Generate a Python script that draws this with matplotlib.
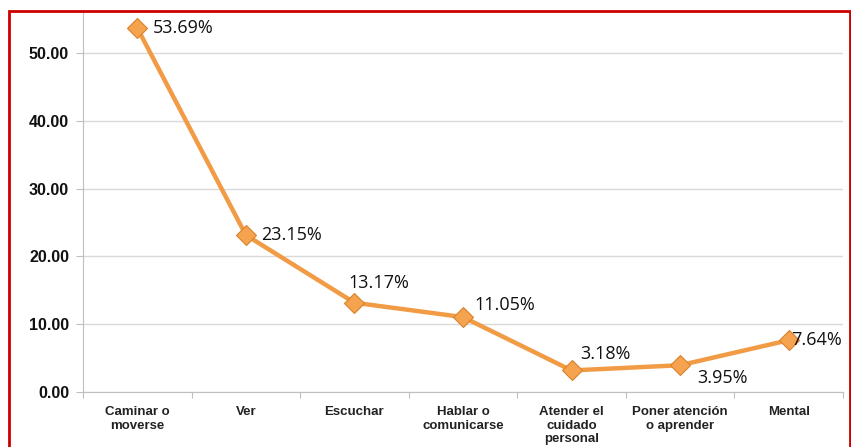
import numpy as np
import matplotlib
matplotlib.use("Agg")
import matplotlib.pyplot as plt
from matplotlib.patches import Rectangle

categories = ["Caminar o\nmoverse", "Ver", "Escuchar", "Hablar o\ncomunicarse",
              "Atender el\ncuidado\npersonal", "Poner atención\no aprender", "Mental"]
values = [53.69, 23.15, 13.17, 11.05, 3.18, 3.95, 7.64]
yticks = [0, 10, 20, 30, 40, 50]

# label offsets in points (dx, dy) and alignment, one per point
label_pos = [(11, 0, "left", "center"),
             (11, 0, "left", "center"),
             (-4, 8, "left", "bottom"),
             (8, 2, "left", "bottom"),
             (6, 5, "left", "bottom"),
             (12, -3, "left", "top"),
             (2, 0, "left", "center")]

fig = plt.figure(figsize=(8.51, 4.47), dpi=100)
ax = fig.add_axes([83 / 851, 1 - 392 / 447, 760 / 851, 381 / 447])

x = np.arange(len(values))
orange = "#F29B45"
ax.plot(x, values, color=orange, linewidth=3.2, zorder=3, solid_capstyle="round")
ax.plot(x, values, linestyle="none", marker="D", markersize=10,
        markerfacecolor="#F5A34F", markeredgecolor="#D9822B", markeredgewidth=0.8, zorder=4)

for xi, v, (dx, dy, ha, va) in zip(x, values, label_pos):
    ax.annotate(f"{v:.2f}%", (xi, v), xytext=(dx, dy), textcoords="offset points",
                ha=ha, va=va, fontsize=13, family="Open Sans", color="#111111",
                annotation_clip=False, zorder=5)

ax.set_xlim(-0.5, len(values) - 0.5)
ax.set_ylim(0, 56.2)
ax.set_yticks(yticks)
ax.set_yticklabels([f"{t:.2f}" for t in yticks], fontsize=11.5, fontweight="bold",
                   family="Liberation Sans", color="#111111")
ax.yaxis.grid(True, color="#D9D9D9", linewidth=1)
ax.set_axisbelow(True)

# category labels centred between boundary ticks
ax.set_xticks(np.arange(-0.5, len(values) + 0.5, 1))
ax.set_xticklabels([])
ax.set_xticks(x, minor=True)
ax.set_xticklabels(categories, minor=True, fontsize=9.5, fontweight="bold",
                   family="Liberation Sans", color="#222222", linespacing=1.2)
ax.tick_params(axis="x", which="minor", length=0, pad=10)
ax.tick_params(axis="x", which="major", length=4, color="#BFBFBF")
ax.tick_params(axis="y", length=5, color="#BFBFBF", pad=5)

for side in ["top", "right"]:
    ax.spines[side].set_visible(False)
ax.spines["left"].set_color("#BFBFBF")
ax.spines["bottom"].set_color("#BFBFBF")

# red frame around the chart
fig.patches.append(Rectangle((9 / 851, -0.05), 841 / 851, 1.05 - 11 / 447,
                             transform=fig.transFigure, fill=False,
                             edgecolor="#CC0000", linewidth=2, zorder=10))

fig.savefig("out.png", dpi=100)
